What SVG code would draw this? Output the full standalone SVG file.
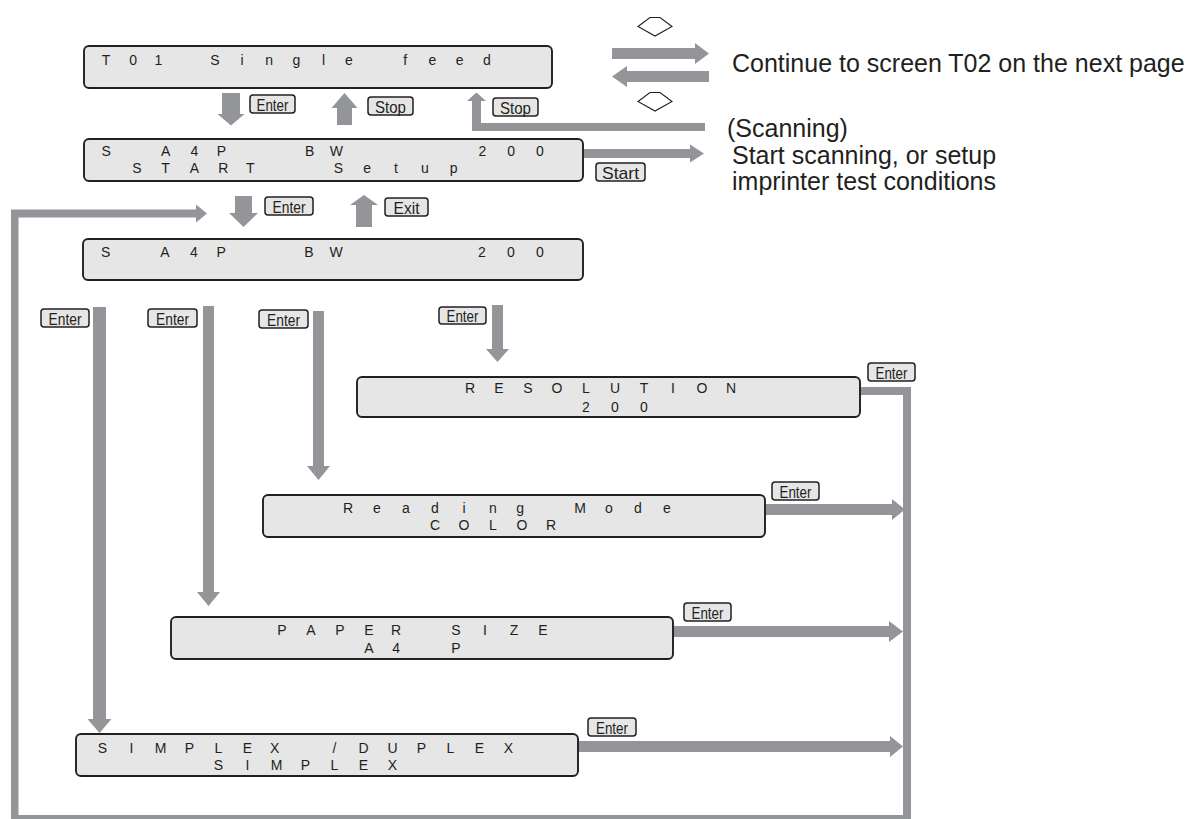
<svg xmlns="http://www.w3.org/2000/svg" width="1197" height="819" viewBox="0 0 1197 819">
<style>
.box{fill:#e6e6e6;stroke:#231f20;stroke-width:1.9}
.lcd{font-family:"Liberation Sans",Arial,Helvetica,sans-serif;font-size:14px;fill:#231f20;text-anchor:middle}
.nar{font-family:"Liberation Sans Narrow","Liberation Sans",Arial,sans-serif}
.key rect{fill:#e6e6e6;stroke:#231f20;stroke-width:1.5}
.key text{font-family:"Liberation Sans Narrow","Liberation Sans",Arial,sans-serif;font-size:17px;fill:#231f20;text-anchor:middle}
.arr{fill:#939598}
.dia{fill:#fff;stroke:#231f20;stroke-width:1.1}
.note{font-family:"Liberation Sans",Arial,Helvetica,sans-serif;font-size:25px;fill:#231f20}
</style>

<g id="connectors">
  <polygon class="arr" points="612,48 695,48 695,43 709,53.5 695,64 695,59 612,59"/>
  <polygon class="arr" points="709,71 627,71 627,66 612,76.5 627,87 627,82 709,82"/>
  <polygon class="arr" points="705,123 481,123 481,101 486,101 476.5,92.5 467,101 472,101 472,131 705,131"/>
  <polygon class="arr" points="584,149 690,149 690,144.5 704,153.5 690,162.5 690,158 584,158"/>
  <polygon class="arr" points="222,93 240,93 240,114 244.5,114 231,125.5 217.5,114 222,114"/>
  <polygon class="arr" points="337,125 352,125 352,108 357.5,108 344.5,93 331.5,108 337,108"/>
  <polygon class="arr" points="235,196 252,196 252,213 258,213 243.5,227 229,213 235,213"/>
  <polygon class="arr" points="356,227 372,227 372,205 378,205 364,195 350,205 356,205"/>
  <polygon class="arr" points="11,822 11,209.5 196,209.5 196,204.5 207,213.5 196,222.5 196,217.5 18.5,217.5 18.5,822"/>
  <rect class="arr" x="11" y="815" width="900" height="8"/>
  <polygon class="arr" points="860,387 911,387 911,823 903,823 903,395 860,395"/>
  <polygon class="arr" points="93,307 106,307 106,719 111.5,719 99.5,733 87.5,719 93,719"/>
  <polygon class="arr" points="203,306 214,306 214,592 220,592 208.5,606 197,592 203,592"/>
  <polygon class="arr" points="313,311 324,311 324,466 330,466 318.5,480 307,466 313,466"/>
  <polygon class="arr" points="492,305 503,305 503,349 509,349 497.5,362 486,349 492,349"/>
  <polygon class="arr" points="765,504 892,504 892,499 905,509.5 892,520 892,515 765,515"/>
  <polygon class="arr" points="673,626 889,626 889,621 903,631.5 889,642 889,637 673,637"/>
  <polygon class="arr" points="578,741 890,741 890,736 903,746.5 890,757 890,752 578,752"/>
</g>

<g id="symbols">
  <polygon class="dia" points="638,26.5 650,17.5 660,17.5 672,26.5 655,36"/>
  <polygon class="dia" points="638,101.5 650,92.5 660,92.5 672,101.5 655,111"/>
</g>

<g id="keys">
  <g id="key-enter-1" class="key"><rect x="250" y="95" width="45" height="18" rx="3"/><text x="272.5" y="110.5" textLength="32" lengthAdjust="spacingAndGlyphs">Enter</text></g>
  <g id="key-stop-1" class="key"><rect x="368" y="97" width="45" height="18" rx="3"/><text x="390.5" y="112.5" textLength="31" lengthAdjust="spacingAndGlyphs">Stop</text></g>
  <g id="key-stop-2" class="key"><rect x="493" y="98" width="45" height="18" rx="3"/><text x="515.5" y="113.5" textLength="31" lengthAdjust="spacingAndGlyphs">Stop</text></g>
  <g id="key-start" class="key"><rect x="596" y="163" width="49" height="18" rx="3"/><text x="620.5" y="178.5" textLength="37" lengthAdjust="spacingAndGlyphs">Start</text></g>
  <g id="key-enter-2" class="key"><rect x="265" y="197" width="48" height="18" rx="3"/><text x="289" y="212.5" textLength="33" lengthAdjust="spacingAndGlyphs">Enter</text></g>
  <g id="key-exit" class="key"><rect x="385" y="198" width="43" height="18" rx="3"/><text x="406.5" y="213.5" textLength="26" lengthAdjust="spacingAndGlyphs">Exit</text></g>
  <g id="key-enter-a" class="key"><rect x="41" y="309" width="48" height="18" rx="3"/><text x="65" y="324.5" textLength="33" lengthAdjust="spacingAndGlyphs">Enter</text></g>
  <g id="key-enter-b" class="key"><rect x="148" y="309" width="49" height="18" rx="3"/><text x="172.5" y="324.5" textLength="33" lengthAdjust="spacingAndGlyphs">Enter</text></g>
  <g id="key-enter-c" class="key"><rect x="259" y="310" width="49" height="18" rx="3"/><text x="283.5" y="325.5" textLength="33" lengthAdjust="spacingAndGlyphs">Enter</text></g>
  <g id="key-enter-d" class="key"><rect x="439" y="307" width="47" height="17" rx="3"/><text x="462.5" y="321.5" textLength="32" lengthAdjust="spacingAndGlyphs">Enter</text></g>
  <g id="key-enter-res" class="key"><rect x="868" y="363" width="47" height="18" rx="3"/><text x="891.5" y="378.5" textLength="32" lengthAdjust="spacingAndGlyphs">Enter</text></g>
  <g id="key-enter-mode" class="key"><rect x="772" y="482" width="47" height="18" rx="3"/><text x="795.5" y="497.5" textLength="32" lengthAdjust="spacingAndGlyphs">Enter</text></g>
  <g id="key-enter-paper" class="key"><rect x="684" y="603" width="47" height="18" rx="3"/><text x="707.5" y="618.5" textLength="32" lengthAdjust="spacingAndGlyphs">Enter</text></g>
  <g id="key-enter-simplex" class="key"><rect x="588" y="718" width="48" height="18" rx="3"/><text x="612" y="733.5" textLength="32" lengthAdjust="spacingAndGlyphs">Enter</text></g>
</g>

<g id="notes">
  <text class="note" x="732" y="72">Continue to screen T02 on the next page</text>
  <text class="note" x="727" y="137">(Scanning)</text>
  <text class="note" x="732" y="163.5">Start scanning, or setup</text>
  <text class="note" x="732" y="190">imprinter test conditions</text>
</g>

<g id="node-t01">
  <rect class="box" x="84" y="46" width="468" height="42" rx="5"/>
  <text class="lcd" y="65"><tspan x="106 133.2 160.4">T01</tspan> <tspan x="214.8 242 269.2 296.4 323.6 350.8">Single</tspan> <tspan x="405.2 432.4 459.6 486.8">feed</tspan></text>
</g>

<g id="node-start">
  <rect class="box" x="84" y="139" width="499" height="42" rx="5"/>
  <text class="lcd" y="156"><tspan x="108">S</tspan> <tspan x="165.6 194.4 223.2">A4P</tspan> <tspan x="309.6 338.4">BW</tspan> <tspan x="482.4 511.2 540">200</tspan></text>
  <text class="lcd" y="173"><tspan x="136.8 165.6 194.4 223.2 252">START</tspan> <tspan x="338.4 367.2 396 424.8 453.6">Setup</tspan></text>
</g>

<g id="node-status">
  <rect class="box" x="83" y="239" width="500" height="41" rx="5"/>
  <text class="lcd" y="257"><tspan x="107.5">S</tspan> <tspan x="165 194 223">A4P</tspan> <tspan x="309 338">BW</tspan> <tspan x="482 511 540">200</tspan></text>
</g>

<g id="node-resolution">
  <rect class="box" x="357" y="377" width="503" height="40" rx="5"/>
  <text class="lcd" y="393" x="470 499 528 557 586 615 644 673 702 731">RESOLUTION</text>
  <text class="lcd" y="412" x="586 615 644">200</text>
</g>

<g id="node-reading-mode">
  <rect class="box" x="263" y="495" width="502" height="42" rx="5"/>
  <text class="lcd" y="513"><tspan x="348 377 406 435 464 493 522">Reading</tspan> <tspan x="580 609 638 667">Mode</tspan></text>
  <text class="lcd" y="530" x="435 464 493 522 551">COLOR</text>
</g>

<g id="node-paper-size">
  <rect class="box" x="171" y="617" width="502" height="42" rx="5"/>
  <text class="lcd nar" y="635"><tspan x="282 311 340 369 398">PAPER</tspan> <tspan x="456 485 514 543">SIZE</tspan></text>
  <text class="lcd nar" y="653"><tspan x="369 398">A4</tspan> <tspan x="456">P</tspan></text>
</g>

<g id="node-simplex">
  <rect class="box" x="76" y="734" width="502" height="42" rx="5"/>
  <text class="lcd nar" y="753"><tspan x="102.5 131.5 160.5 189.5 218.5 247.5 276.5">SIMPLEX</tspan> <tspan x="334.5 363.5 392.5 421.5 450.5 479.5 508.5">/DUPLEX</tspan></text>
  <text class="lcd nar" y="770" x="218.5 247.5 276.5 305.5 334.5 363.5 392.5">SIMPLEX</text>
</g>
</svg>
